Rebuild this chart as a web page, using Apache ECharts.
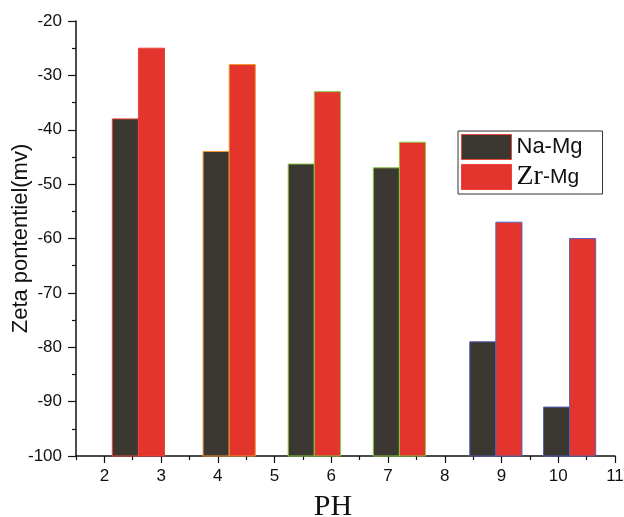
<!DOCTYPE html>
<html>
<head>
<meta charset="utf-8">
<script src="https://cdn.jsdelivr.net/npm/echarts@6/dist/echarts.min.js"></script>
<style>
  html, body { margin: 0; padding: 0; background: #ffffff; }
  #chart { width: 624px; height: 517px; }
</style>
</head>
<body>
<div id="chart"></div>
<script>
// pH value at the shared edge of each pair of bars
const phGroups = [2.6, 4.2, 5.7, 7.2, 8.9, 10.2];
// zeta potential (mV) per sample
const naMg = [-38, -44, -46.3, -47, -79, -91];
const zrMg = [-25, -28, -33, -42.3, -57, -60];
// axis ticks
const xTicks = [2, 3, 4, 5, 6, 7, 8, 9, 10, 11];
const xMinorTicks = [1.5, 2.5, 3.5, 4.5, 5.5, 6.5, 7.5, 8.5, 9.5, 10.5];

// outline colour of each bar pair
const edgeColors = ['#e8453a', '#f0952e', '#8cc63f', '#8cc63f', '#5560b8', '#5560b8'];
const BAR_W = 0.46;      // bar width in pH units
const Y_MIN = -100;
const Y_MAX = -20;
const X_MIN = 1.5;
const X_MAX = 11;

const sansFont = '"Liberation Sans", Arial, sans-serif';
const serifFont = '"Liberation Serif", "Times New Roman", serif';

function barRenderer(side) {
  return function (params, api) {
    const x = api.value(0);
    const v = api.value(1);
    const top = api.coord([x, v]);
    const base = api.coord([x, Y_MIN]);
    const w = api.size([BAR_W, 0])[0];
    const x0 = side < 0 ? top[0] - w : top[0];
    return {
      type: 'rect',
      shape: { x: x0, y: top[1], width: w, height: base[1] - top[1] },
      style: { fill: api.visual('color'), stroke: edgeColors[params.dataIndex], lineWidth: 1 }
    };
  };
}

const grid = { left: 76, right: 9, top: 21, bottom: 61, containLabel: false, outerBoundsMode: 'none' };

const chart = echarts.init(document.getElementById('chart'), null, { renderer: 'canvas' });
chart.setOption({
  backgroundColor: '#ffffff',
  animation: false,
  textStyle: { fontFamily: sansFont },
  grid: [Object.assign({}, grid), Object.assign({}, grid)],
  legend: {
    orient: 'vertical',
    left: 458,
    top: 131,
    padding: [3, 20, 3, 3],
    itemGap: 3,
    itemWidth: 50,
    itemHeight: 25,
    borderColor: '#333333',
    borderWidth: 1,
    icon: 'rect',
    data: [
      { name: 'Na-Mg', itemStyle: { color: '#3b3731', borderColor: '#e8453a', borderWidth: 1 } },
      { name: 'Zr-Mg', itemStyle: { color: '#e3352d', borderColor: '#e8453a', borderWidth: 1 } }
    ],
    formatter: function (name) {
      return name === 'Zr-Mg' ? '{z|Zr}{m|-Mg}' : '{n|Na-Mg}';
    },
    textStyle: {
      color: '#111111',
      rich: {
        n: { fontFamily: sansFont, fontSize: 22, color: '#111111' },
        z: { fontFamily: serifFont, fontSize: 28, color: '#111111' },
        m: { fontFamily: sansFont, fontSize: 21, color: '#111111' }
      }
    }
  },
  xAxis: [
    {
      type: 'value',
      gridIndex: 0,
      min: X_MIN,
      max: X_MAX,
      name: 'PH',
      nameLocation: 'middle',
      nameGap: 36,
      nameMoveOverlap: false,
      nameTextStyle: { fontFamily: serifFont, fontSize: 30, color: '#111111', padding: [0, 25, 0, 0] },
      axisLine: { show: true, lineStyle: { color: '#111111', width: 1.5 } },
      axisTick: { show: true, customValues: xTicks, length: 7, lineStyle: { color: '#111111', width: 1.2 } },
      axisLabel: { customValues: xTicks, margin: 12, fontSize: 17, color: '#111111', fontFamily: sansFont },
      splitLine: { show: false }
    },
    {
      type: 'value',
      gridIndex: 1,
      min: X_MIN,
      max: X_MAX,
      position: 'bottom',
      axisLine: { show: false },
      axisTick: { show: true, customValues: xMinorTicks, length: 4, lineStyle: { color: '#111111', width: 1.2 } },
      axisLabel: { show: false },
      splitLine: { show: false }
    }
  ],
  yAxis: [
    {
      type: 'value',
      gridIndex: 0,
      min: Y_MIN,
      max: Y_MAX,
      interval: 10,
      name: 'Zeta pontentiel(mv)',
      nameLocation: 'middle',
      nameGap: 44,
      nameMoveOverlap: false,
      nameTextStyle: { fontFamily: sansFont, fontSize: 22, color: '#111111' },
      axisLine: { show: true, lineStyle: { color: '#111111', width: 1.5 } },
      axisTick: { show: true, length: 8, lineStyle: { color: '#111111', width: 1.2 } },
      minorTick: { show: true, splitNumber: 2, length: 4, lineStyle: { color: '#111111', width: 1.2 } },
      axisLabel: { margin: 14, fontSize: 17, color: '#111111', fontFamily: sansFont },
      splitLine: { show: false }
    },
    {
      type: 'value',
      gridIndex: 1,
      min: Y_MIN,
      max: Y_MAX,
      show: false
    }
  ],
  series: [
    {
      name: 'Na-Mg',
      type: 'custom',
      xAxisIndex: 0,
      yAxisIndex: 0,
      itemStyle: { color: '#3b3731' },
      encode: { x: 0, y: 1 },
      renderItem: barRenderer(-1),
      data: phGroups.map((p, i) => [p, naMg[i]])
    },
    {
      name: 'Zr-Mg',
      type: 'custom',
      xAxisIndex: 0,
      yAxisIndex: 0,
      itemStyle: { color: '#e3352d' },
      encode: { x: 0, y: 1 },
      renderItem: barRenderer(1),
      data: phGroups.map((p, i) => [p, zrMg[i]])
    }
  ]
});
</script>
</body>
</html>
